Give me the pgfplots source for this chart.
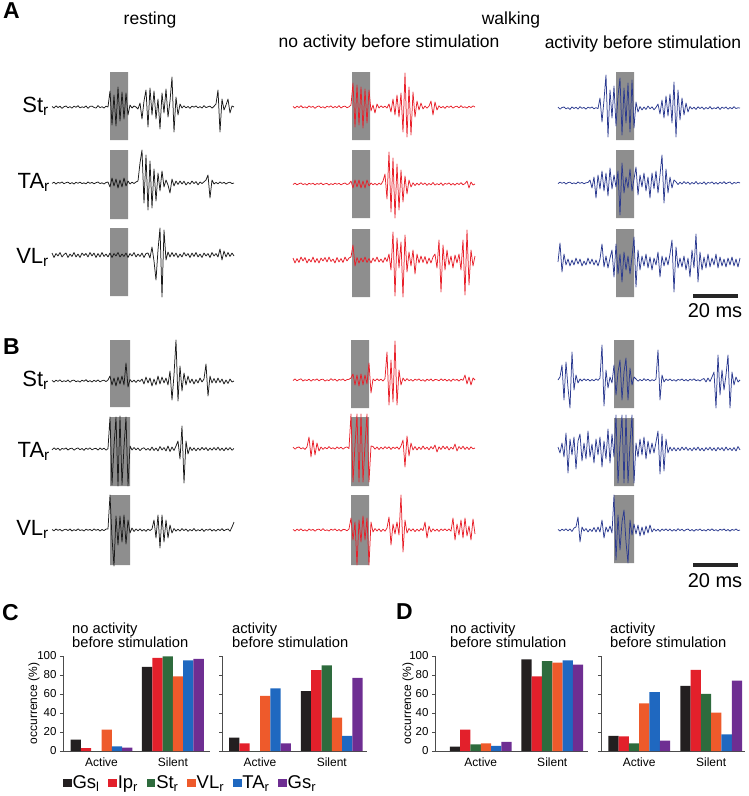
\documentclass[border=0pt]{standalone}
\usepackage{fontspec}
\setmainfont{Liberation Sans}
\usepackage{pgfplots}
\pgfplotsset{compat=1.18}
\definecolor{trblack}{HTML}{1A1A1A}
\definecolor{trred}{HTML}{E8202A}
\definecolor{trblue}{HTML}{2B3A90}
\definecolor{boxgray}{HTML}{8E8E8E}
\definecolor{cGsl}{HTML}{231F20}
\definecolor{cIp}{HTML}{E3202B}
\definecolor{cSt}{HTML}{2E6B3D}
\definecolor{cVL}{HTML}{EE5A2B}
\definecolor{cTA}{HTML}{1F68C0}
\definecolor{cGsr}{HTML}{6E2E92}
\newcommand{\fs}[1]{\fontsize{#1}{#1}\selectfont}
% trace: colour, x start (px), baseline (px), values (px, up positive)
\newcommand{\tr}[4]{\addplot[line width=0.75pt, line join=round, #1] table[header=false, row sep=\\, x expr={#2+2*\coordindex}, y expr={#3-(\thisrowno{0})}] {#4};}
\newcommand{\stimbox}[4]{\addplot[fill=boxgray, draw=none] coordinates {(#1,#3) (#2,#3) (#2,#4) (#1,#4) (#1,#3)};}
\pgfplotsset{
  barax/.style={scale only axis, height=95pt, ymin=0, ymax=100, ytick={0,20,40,60,80,100},
    axis lines=left, axis line style={-, draw=black!70, line width=0.8pt},
    xtick={0,1}, xticklabels={Active,Silent},
    x tick style={draw=none}, y tick style={draw=black!70, line width=0.8pt},
    tick align=outside, major tick length=3pt,
    yticklabel style={font=\fs{11.5}}, xticklabel style={font=\fs{12}},
    /pgf/number format/assume math mode=true, clip=false, enlargelimits=false},
  bb/.style 2 args={ybar, bar width=10.3pt, bar shift=#2, fill=#1, draw=none,
    legend image code/.code={\fill[#1] (0pt,-4.3pt) rectangle (8.6pt,4.3pt);}},
}
\begin{document}
\begin{tikzpicture}
\useasboundingbox (0,0) rectangle (749pt,796pt);
\begin{axis}[at={(0,0)}, anchor=south west, scale only axis, width=749pt, height=796pt,
  xmin=0, xmax=749, ymin=0, ymax=796, y dir=reverse, hide axis, clip=false, no marks]
% stimulation boxes
\stimbox{110}{128}{72}{140}\stimbox{110}{128}{150}{219}\stimbox{110}{128}{228}{296}
\stimbox{352}{370}{72}{140}\stimbox{352}{370}{150}{218}\stimbox{352}{370}{229}{297}
\stimbox{616}{634}{72}{140}\stimbox{616}{634}{150}{218}\stimbox{616}{634}{229}{297}
\stimbox{110}{130}{340}{407}\stimbox{110}{130}{417}{486}\stimbox{110}{130}{495}{565}
\stimbox{351}{369}{340}{408}\stimbox{351}{369}{417}{486}\stimbox{351}{369}{495}{565}
\stimbox{614}{634}{340}{408}\stimbox{614}{634}{418}{486}\stimbox{614}{634}{495}{563}
% A resting
\tr{trblack}{52}{107}{0.5\\-1\\1.2\\-0.6\\0.8\\-1.4\\0.3\\1\\-0.8\\0.4\\-1.2\\0.9\\-0.3\\1.3\\-0.9\\0.2\\-0.5\\1.1\\-1.3\\0.6\\0.9\\-0.4\\-1.1\\1.4\\-0.7\\0.3\\-1\\0.8\\0\\16\\-18\\12\\-19\\20\\-14\\15\\-12\\14\\-8\\2\\-1\\1\\0\\-2\\4\\-12\\6\\17\\-20\\19\\-8\\16\\-12\\8\\-22\\14\\-6\\18\\-10\\6\\30\\-25\\10\\-8\\3\\-1\\1.2\\-0.8\\0.5\\-1.3\\0.9\\-0.2\\1.1\\-0.9\\0.4\\-1\\1.3\\-0.6\\0.2\\0.9\\-1.2\\0.7\\3\\17\\-25\\8\\-3\\2\\8\\-6\\1\\0\\}
\tr{trblack}{52}{183}{-0.4\\0.8\\-1\\0.6\\-0.2\\1\\-0.7\\0.3\\0.9\\-0.8\\0.4\\-1\\0.7\\-0.3\\0.9\\-0.6\\0.2\\-0.9\\1\\-0.4\\0.6\\-0.8\\0.3\\1\\-0.6\\0.2\\-1\\0.5\\1\\-4\\5\\-3\\4\\-5\\3\\-4\\5\\-3\\2\\-1\\0.8\\-0.5\\1\\2\\20\\33\\-20\\28\\-27\\22\\-25\\14\\-18\\10\\-8\\12\\-4\\3\\-2\\-10\\4\\-3\\2\\-1.5\\2\\-1\\1.8\\-2\\0.8\\-1.2\\2\\-0.6\\1.4\\-1.8\\1\\-0.5\\1.2\\3\\8\\-15\\3\\-1\\0.6\\-0.8\\1\\-0.4\\0.7\\-1\\0.3\\0.8\\-0.6\\0\\}
\tr{trblack}{52}{255}{2\\-2.5\\1.5\\-1\\2.5\\-2\\0.5\\2\\-2.5\\1\\-1.5\\2.5\\-2\\1\\-2.5\\2\\-0.5\\1.5\\-2\\2.5\\-1\\2\\-2.5\\1.5\\-2\\2.5\\-1.5\\1\\-2\\2\\-2.5\\1.5\\-1\\2.5\\-2\\1\\-1.5\\2\\-2.5\\1.5\\-1\\2.5\\-2\\1\\-1.5\\2\\-2.5\\1.5\\2\\-3\\8\\-6\\-25\\5\\27\\-42\\25\\-5\\3\\-2\\2.5\\-1.5\\2\\-2.5\\1\\-2\\2.5\\-1\\1.5\\-2.5\\2\\-1.5\\2.5\\-2\\1\\-2.5\\2\\-1\\1.5\\-2.5\\2.5\\-1\\1.5\\-2\\6\\-5\\4\\-2\\2.5\\-1.5\\2\\-1\\}
% A walking, no activity
\tr{trred}{293}{107}{0.6\\-1.2\\0.9\\-0.5\\1.3\\-0.8\\0.2\\-1\\1.1\\-0.4\\0.7\\-1.3\\0.4\\1\\-0.7\\0.3\\-1.1\\0.8\\-0.2\\1.2\\-0.9\\0.5\\-0.6\\1.3\\-1\\0.4\\0.9\\-0.7\\0.2\\2\\24\\-20\\22\\-18\\20\\-21\\18\\-16\\17\\-4\\2\\-6\\3\\-1\\1.2\\-0.6\\0.9\\-1.1\\3\\-5\\8\\-8\\12\\-10\\14\\-25\\34\\-30\\20\\-28\\15\\-10\\6\\-3\\4\\-2\\1\\-1.2\\0.8\\6\\-8\\5\\-3\\1.2\\-0.8\\0.5\\-1.3\\0.9\\-0.4\\1\\-1.1\\0.3\\0.8\\-0.9\\1.3\\-0.5\\0.2\\-1\\0.7\\-0.6\\1.1\\0\\}
\tr{trred}{293}{184}{-0.5\\0.9\\-0.8\\0.3\\1\\-0.6\\0.4\\-1\\0.7\\-0.2\\0.8\\-0.9\\0.5\\-0.3\\1\\-0.7\\0.2\\0.6\\-1\\0.4\\-0.6\\0.9\\-0.3\\0.7\\-0.9\\0.3\\1\\-0.5\\0.2\\3\\-4\\4\\-3\\4\\-4\\3\\-4\\4\\-2\\1\\-0.8\\0.6\\-1\\0.9\\-0.5\\3\\10\\-15\\32\\-28\\26\\-34\\20\\-26\\14\\-18\\8\\-10\\4\\-3\\1.2\\-1.5\\0.8\\-1\\1.4\\-0.6\\1\\-1.3\\0.5\\-0.9\\1.5\\-1.1\\0.4\\-0.8\\1.2\\-1.4\\0.7\\-0.3\\1.1\\-1\\0.6\\-1.2\\0.9\\-0.5\\1.3\\-0.8\\0.4\\3\\-4\\2\\-1\\0\\}
\tr{trred}{293}{260}{2\\-3\\1.5\\-2.5\\3\\-1\\2.5\\-3\\1\\-2\\3\\-2.5\\1.5\\-3\\2\\-1\\2.5\\-2\\3\\-1.5\\1\\-3\\2.5\\-2\\1.5\\-2.5\\3\\-1\\2\\3\\15\\-6\\2.5\\-3\\2\\-2\\3\\-2.5\\1.5\\-3\\2\\-1.5\\3\\-2\\1\\-2.5\\2.5\\-1.5\\6\\-10\\28\\-36\\22\\-8\\18\\-37\\25\\-12\\8\\-6\\10\\-14\\6\\-3\\4\\-2.5\\3.5\\-4\\2\\-3\\3\\6\\-8\\20\\-32\\15\\-10\\10\\-5\\4\\-8\\5\\-3\\6\\-10\\20\\-35\\30\\-25\\10\\-6\\4\\}
% A walking, activity
\tr{trblue}{558}{108}{0.8\\-1.2\\0.5\\1\\-0.9\\0.3\\-1.4\\1.1\\-0.5\\0.7\\-1\\1.3\\-0.4\\0.6\\-1.2\\0.9\\-0.2\\1\\-0.8\\0.4\\-0.6\\10\\-14\\8\\33\\-29\\18\\-10\\22\\-18\\12\\30\\-27\\20\\-15\\25\\-24\\28\\-20\\6\\-4\\1.5\\-2\\1\\-1.5\\2\\-0.8\\1.2\\-1.8\\0.6\\4\\-6\\8\\-10\\12\\-8\\14\\-15\\26\\-29\\18\\-12\\10\\-7\\5\\-4\\1.5\\-1\\0.8\\-1.4\\1.2\\-0.6\\1\\-1.3\\0.5\\-0.9\\1.4\\-1.1\\0.3\\-0.7\\1.2\\-1.5\\0.9\\-0.4\\1\\-1.2\\0.6\\-0.8\\1.3\\-0.5\\0.2\\0\\}
\tr{trblue}{558}{183}{-0.6\\0.9\\-0.3\\0.7\\-1\\0.4\\0.8\\-0.7\\0.2\\-0.9\\1\\-0.4\\0.6\\-0.8\\0.3\\0.5\\3\\-5\\6\\-15\\8\\-6\\12\\-8\\10\\-13\\15\\-6\\8\\-4\\12\\-32\\20\\-10\\6\\-5\\14\\-8\\4\\16\\-12\\8\\-4\\10\\-8\\6\\-15\\10\\-6\\12\\-10\\8\\28\\-20\\14\\-10\\6\\-5\\3\\1.2\\-1.5\\0.8\\-1\\1.4\\-0.6\\1\\-1.3\\0.5\\-0.9\\1.5\\-1.1\\0.4\\-0.8\\1.2\\-1.4\\0.7\\-0.3\\1.1\\-1\\0.6\\-1.2\\0.9\\-0.5\\1.3\\-0.8\\0.4\\1\\-1.2\\0.6\\-0.4\\0.8\\0\\}
\tr{trblue}{558}{262}{0\\19\\-10\\8\\-3\\3\\-4\\2\\-3\\4\\-2\\3\\-4\\1\\-3\\4\\-2\\3\\-3\\2\\-4\\3\\18\\-5\\6\\-6\\4\\12\\-15\\18\\-12\\8\\-20\\10\\-8\\6\\-12\\5\\25\\-25\\12\\-8\\6\\-4\\8\\-6\\5\\-8\\4\\-3\\10\\-15\\6\\-4\\5\\-3\\8\\22\\-30\\15\\-6\\4\\-5\\6\\-8\\4\\-15\\12\\-6\\28\\-20\\10\\-8\\5\\-6\\8\\-5\\4\\-3\\8\\-6\\5\\-4\\3\\-5\\4\\-3\\5\\-4\\3\\-5\\4\\}
% B resting
\tr{trblack}{52}{381}{0.6\\-1\\0.8\\-0.4\\1.2\\-0.9\\0.3\\-0.6\\1\\-1.2\\0.5\\0.9\\-0.7\\0.2\\-1.1\\0.8\\-0.3\\1.3\\-0.8\\0.4\\-1\\0.7\\-0.5\\1.1\\-0.9\\0.3\\0.8\\-0.6\\1\\5\\-4\\3\\-5\\4\\-3\\5\\-4\\18\\-6\\1.5\\-1\\0.8\\-1.4\\1\\-0.5\\2\\-3\\4\\-2\\3\\-5\\2\\-4\\5\\-3\\4\\-2\\3\\-4\\10\\-19\\6\\41\\-20\\15\\-10\\8\\-4\\5\\-2\\2\\-3\\1.5\\-2\\3\\-1\\2\\17\\-15\\5\\-2\\2.5\\-2\\3\\-1.5\\2\\-3\\1\\-2.5\\2\\-1\\0\\}
\tr{trblack}{52}{449}{-0.8\\1.2\\-0.5\\0.9\\-1.3\\0.6\\-0.2\\1\\-1\\0.4\\0.8\\-1.2\\0.3\\1.1\\-0.7\\0.5\\-1.3\\0.9\\-0.4\\1.2\\-0.9\\0.3\\0.7\\-1.1\\1\\-0.5\\0.8\\-1.2\\0.4\\32\\-36\\3\\32\\-37\\33\\-36\\2\\32\\-37\\3\\-1\\1.5\\-0.8\\1\\-1.6\\0.5\\1.2\\-1\\0.6\\-1.4\\2\\-1.5\\1\\-2\\2.5\\-1\\1.5\\-2\\3\\-2.5\\2\\-1.5\\3\\8\\-10\\23\\-34\\8\\-5\\2\\-1.5\\1.2\\-1.8\\1\\-1.3\\1.6\\-0.8\\1.4\\-1.6\\1\\-1.2\\1.5\\-1\\1.8\\-1.4\\0.9\\-1.7\\1.3\\-1\\1.5\\-1.2\\0.5\\}
\tr{trblack}{52}{530}{0.5\\-0.9\\1\\-0.4\\0.7\\-1.1\\0.3\\0.8\\-0.6\\1\\-1\\0.4\\-0.7\\1.2\\-0.5\\0.3\\-1\\0.9\\-0.3\\0.6\\-0.8\\1.1\\-0.4\\0.7\\-1\\0.5\\-0.6\\0.9\\1\\35\\-8\\-36\\14\\-15\\14\\-12\\15\\-14\\10\\-3\\2\\-1.5\\1\\-0.8\\1.2\\-1\\0.6\\-1.3\\0.9\\-0.5\\1\\10\\-8\\15\\-18\\15\\-12\\10\\-8\\5\\-3\\1.5\\-1.2\\0.8\\-1\\1.4\\-0.6\\1\\-1.3\\0.5\\-0.9\\1.5\\-1.1\\0.4\\-0.8\\1.2\\-1.4\\0.7\\-0.3\\1.1\\-1\\0.6\\-1.2\\0.9\\-0.5\\1.3\\-0.8\\0.4\\1\\-1.2\\3\\8\\}
% B walking, no activity
\tr{trred}{293}{380}{-0.5\\1\\-0.8\\0.4\\1.2\\-1\\0.3\\-0.6\\0.9\\-1.2\\0.6\\-0.3\\1.1\\-0.9\\0.5\\0.8\\-1.1\\0.2\\-0.7\\1.3\\-0.4\\0.9\\-1.2\\0.6\\-0.2\\1\\-0.8\\0.4\\0.7\\2\\6\\-5\\5\\-6\\6\\-5\\5\\-4\\17\\-13\\1\\-0.8\\1.2\\-0.6\\0.9\\-1\\1.5\\28\\-25\\20\\-22\\39\\-25\\10\\-5\\2\\-1\\1.3\\-0.7\\0.5\\-1.2\\0.9\\-0.3\\1.1\\-0.9\\0.4\\-1.3\\0.8\\-0.5\\1\\-1.1\\0.6\\0.3\\-0.8\\1.2\\-0.6\\0.9\\-1\\0.5\\-1.3\\1\\-0.4\\0.7\\-1.2\\0.8\\-0.3\\5\\-4\\3\\-5\\2\\0\\}
\tr{trred}{293}{448}{0.8\\-1.2\\0.5\\1\\-0.9\\0.3\\-1.4\\1.1\\11\\-9\\8\\-7\\5\\-3\\1\\-1.3\\0.6\\-0.9\\1.4\\-0.7\\0.3\\-1.1\\1\\-0.5\\0.8\\-1.2\\0.4\\1.1\\-0.6\\34\\-34\\3\\34\\-34\\34\\-34\\3\\34\\-34\\2\\1.5\\-1.2\\1\\-1.5\\0.8\\-1\\1.3\\-0.6\\1.2\\-1.4\\0.9\\-0.5\\1.1\\-1.3\\2\\8\\-19\\12\\-8\\5\\-2\\1.5\\-2\\1\\-1.5\\2\\-1.2\\0.8\\-1.8\\1.4\\-1\\3\\-4\\1.2\\-1.5\\2\\-1\\1.6\\-2\\0.8\\-1.2\\4\\-3\\1.5\\-1\\1.8\\-1.4\\1\\-1.6\\1.2\\-0.8\\0\\}
\tr{trred}{293}{530}{0.6\\-1\\0.9\\-0.5\\1.2\\-0.8\\0.3\\-1.1\\1\\-0.4\\0.7\\-1.2\\0.5\\0.9\\-0.7\\1.3\\-0.6\\0.2\\-1\\0.8\\-0.3\\1.1\\-0.9\\0.5\\-1.2\\0.7\\0.4\\-0.8\\1\\12\\-10\\8\\-35\\10\\-12\\14\\-10\\12\\-35\\8\\-2\\1.5\\-1\\1.2\\-1.5\\0.8\\-1.2\\2\\13\\-15\\6\\-4\\8\\-5\\35\\-22\\10\\-3\\1.5\\-1\\1.2\\-1.6\\0.8\\-1.2\\1.4\\-0.6\\8\\-8\\4\\-2\\1.2\\-1\\0.8\\-1.4\\1\\-0.6\\1.2\\-0.8\\1\\-1.2\\12\\-10\\6\\-5\\10\\-8\\12\\-6\\4\\-10\\11\\-4\\}
% B walking, activity
\tr{trblue}{558}{380}{0\\3\\15\\-20\\18\\-8\\-28\\28\\-10\\5\\-3\\1\\-1\\1.2\\-0.6\\0.9\\-1\\0.5\\-0.8\\1.1\\-0.4\\2\\35\\-26\\10\\-8\\3\\-3\\15\\-15\\8\\20\\-20\\8\\22\\-20\\12\\-5\\3\\1\\-1.2\\0.6\\-0.9\\1.3\\-0.5\\0.8\\-1.1\\0.4\\-0.7\\1\\30\\-20\\5\\-2\\1\\-0.6\\1.1\\-0.9\\0.4\\-1.2\\0.7\\-0.3\\1\\-0.8\\0.5\\-1.1\\0.9\\-0.4\\1.2\\-0.7\\0.3\\-1\\0.6\\1.5\\-2\\2\\-1.5\\3\\8\\-28\\25\\-15\\10\\-10\\5\\25\\-28\\8\\-5\\3\\-2\\0\\}
\tr{trblue}{558}{449}{2\\-4\\6\\-8\\16\\-24\\10\\-6\\12\\-20\\8\\15\\-12\\6\\-10\\18\\-8\\5\\-14\\10\\-6\\12\\-18\\8\\-10\\20\\-14\\15\\-8\\34\\-34\\5\\34\\-34\\34\\-34\\5\\34\\-34\\6\\-8\\10\\-6\\12\\-10\\8\\-5\\6\\-4\\7\\18\\-25\\15\\-22\\10\\-4\\2\\-1.8\\1.5\\-2\\1.2\\-1.6\\2\\-1\\1.8\\-1.4\\1\\-1.8\\1.5\\-1.2\\2\\-1.6\\1\\-2\\1.4\\-1\\1.8\\-1.5\\1.2\\-2\\1.6\\-1\\1.4\\-1.8\\2\\-1.2\\1\\-1.6\\1.5\\-2\\2.5\\-1\\}
\tr{trblue}{558}{530}{0.6\\-1\\0.8\\-0.5\\1.2\\-0.8\\1\\-1.5\\2\\3\\13\\-12\\3\\-1\\1.5\\-2\\1\\-1.5\\2.5\\-2\\3\\-2\\10\\-8\\3\\-2\\4\\-3\\35\\-30\\15\\-20\\8\\20\\-12\\-33\\10\\-5\\6\\-4\\5\\-6\\3\\-5\\4\\-3\\5\\-2\\1.2\\-1\\0.8\\-1.4\\1\\-0.6\\1.2\\-0.8\\1\\-1.2\\0.6\\-1\\1.3\\-0.5\\0.8\\-1.1\\0.4\\1\\-0.9\\0.5\\-1.2\\0.7\\-0.4\\1.1\\-0.8\\0.3\\-1\\0.9\\-0.5\\1.2\\-0.7\\0.4\\-1.1\\0.8\\-0.3\\1\\-0.9\\0.6\\-1.2\\0.7\\-0.4\\1\\-0.6\\0\\}
% scale bars
\addplot[line width=3.5pt, black!85] coordinates {(693,296) (738,296)};
\addplot[line width=3.5pt, black!85] coordinates {(693,565) (738,565)};
% texts
\node[anchor=base west, inner sep=0, font=\fs{23}\bfseries] at (axis cs:3,18) {A};
\node[anchor=base west, inner sep=0, font=\fs{23}\bfseries] at (axis cs:3,354) {B};
\node[anchor=base west, inner sep=0, font=\fs{23}\bfseries] at (axis cs:2,620) {C};
\node[anchor=base west, inner sep=0, font=\fs{23}\bfseries] at (axis cs:396,619) {D};
\node[anchor=base, inner sep=0, font=\fs{17.5}] at (axis cs:150,24) {resting};
\node[anchor=base, inner sep=0, font=\fs{17.5}] at (axis cs:511,24) {walking};
\node[anchor=base, inner sep=0, font=\fs{17.5}] at (axis cs:389,47) {no activity before stimulation};
\node[anchor=base, inner sep=0, font=\fs{17.5}] at (axis cs:643,48) {activity before stimulation};
\node[anchor=base east, inner sep=0, font=\fs{22}] at (axis cs:49,112) {St\textsubscript{r}};
\node[anchor=base east, inner sep=0, font=\fs{22}] at (axis cs:50,188) {TA\textsubscript{r}};
\node[anchor=base east, inner sep=0, font=\fs{22}] at (axis cs:49,263) {VL\textsubscript{r}};
\node[anchor=base east, inner sep=0, font=\fs{22}] at (axis cs:49,386) {St\textsubscript{r}};
\node[anchor=base east, inner sep=0, font=\fs{22}] at (axis cs:50,457) {TA\textsubscript{r}};
\node[anchor=base east, inner sep=0, font=\fs{22}] at (axis cs:49,535) {VL\textsubscript{r}};
\node[anchor=base, inner sep=0, font=\fs{20}] at (axis cs:715,317) {20 ms};
\node[anchor=base, inner sep=0, font=\fs{20}] at (axis cs:715,587) {20 ms};
\node[anchor=base west, inner sep=0, font=\fs{14.7}] at (axis cs:72,633) {no activity};
\node[anchor=base west, inner sep=0, font=\fs{14.7}] at (axis cs:72,647) {before stimulation};
\node[anchor=base west, inner sep=0, font=\fs{14.7}] at (axis cs:232,633) {activity};
\node[anchor=base west, inner sep=0, font=\fs{14.7}] at (axis cs:232,647) {before stimulation};
\node[anchor=base west, inner sep=0, font=\fs{14.7}] at (axis cs:450,633) {no activity};
\node[anchor=base west, inner sep=0, font=\fs{14.7}] at (axis cs:450,647) {before stimulation};
\node[anchor=base west, inner sep=0, font=\fs{14.7}] at (axis cs:610,633) {activity};
\node[anchor=base west, inner sep=0, font=\fs{14.7}] at (axis cs:610,647) {before stimulation};
\end{axis}
% C left
\begin{axis}[barax, at={(63pt,45pt)}, anchor=south west, width=147pt, xmin=-0.54, xmax=1.52,
  ylabel={occurrence (\%)}, ylabel style={font=\fs{12}, at={(axis description cs:-0.197,0.5)}, anchor=center},
  legend columns=6,
  legend style={at={(axis description cs:0,-0.335)}, anchor=west, draw=none, fill=none, font=\fs{18.5},
    inner sep=0pt, nodes={inner xsep=0.8pt, inner ysep=0pt}, /tikz/every even column/.append style={column sep=8pt}}]
\addplot[bb={cGsl}{-25.75pt}] coordinates {(0,12) (1,88.5)};
\addplot[bb={cIp}{-15.45pt}] coordinates {(0,3) (1,98)};
\addplot[bb={cSt}{-5.15pt}] coordinates {(0,0) (1,99.5)};
\addplot[bb={cVL}{5.15pt}] coordinates {(0,22.5) (1,78.5)};
\addplot[bb={cTA}{15.45pt}] coordinates {(0,5) (1,95.5)};
\addplot[bb={cGsr}{25.75pt}] coordinates {(0,3.5) (1,97)};
\legend{Gs\textsubscript{l},Ip\textsubscript{r},St\textsubscript{r},VL\textsubscript{r},TA\textsubscript{r},Gs\textsubscript{r}}
\end{axis}
% C right
\begin{axis}[barax, at={(222pt,45pt)}, anchor=south west, width=145pt, xmin=-0.53, xmax=1.49, yticklabels={}]
\addplot[bb={cGsl}{-25.75pt}] coordinates {(0,14) (1,63)};
\addplot[bb={cIp}{-15.45pt}] coordinates {(0,8) (1,85)};
\addplot[bb={cSt}{-5.15pt}] coordinates {(0,0) (1,90)};
\addplot[bb={cVL}{5.15pt}] coordinates {(0,58) (1,35)};
\addplot[bb={cTA}{15.45pt}] coordinates {(0,66) (1,16)};
\addplot[bb={cGsr}{25.75pt}] coordinates {(0,8) (1,77)};
\end{axis}
% D left
\begin{axis}[barax, at={(435pt,45pt)}, anchor=south west, width=153pt, xmin=-0.64, xmax=1.5,
  ylabel={occurrence (\%)}, ylabel style={font=\fs{12}, at={(axis description cs:-0.176,0.5)}, anchor=center}]
\addplot[bb={cGsl}{-25.75pt}] coordinates {(0,4.5) (1,96.5)};
\addplot[bb={cIp}{-15.45pt}] coordinates {(0,22.5) (1,78.5)};
\addplot[bb={cSt}{-5.15pt}] coordinates {(0,7) (1,94.5)};
\addplot[bb={cVL}{5.15pt}] coordinates {(0,8) (1,93)};
\addplot[bb={cTA}{15.45pt}] coordinates {(0,5.5) (1,95.5)};
\addplot[bb={cGsr}{25.75pt}] coordinates {(0,9.5) (1,91)};
\end{axis}
% D right
\begin{axis}[barax, at={(601pt,45pt)}, anchor=south west, width=144pt, xmin=-0.53, xmax=1.47, yticklabels={}]
\addplot[bb={cGsl}{-25.75pt}] coordinates {(0,16) (1,68.5)};
\addplot[bb={cIp}{-15.45pt}] coordinates {(0,15.5) (1,85.5)};
\addplot[bb={cSt}{-5.15pt}] coordinates {(0,8) (1,60)};
\addplot[bb={cVL}{5.15pt}] coordinates {(0,50) (1,40.5)};
\addplot[bb={cTA}{15.45pt}] coordinates {(0,62) (1,17.5)};
\addplot[bb={cGsr}{25.75pt}] coordinates {(0,11) (1,74)};
\end{axis}
\end{tikzpicture}
\end{document}
